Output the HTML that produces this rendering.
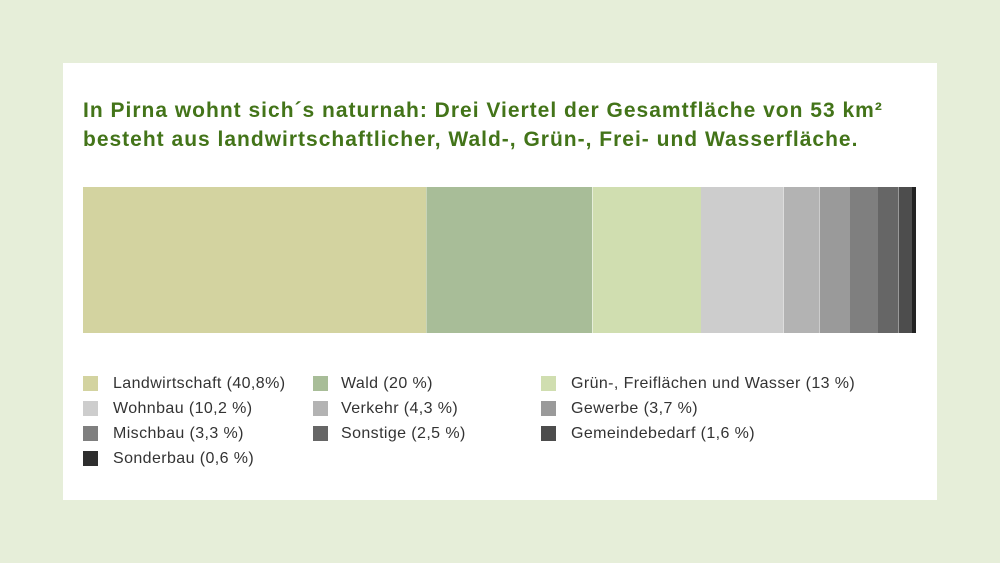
<!DOCTYPE html>
<html><head><meta charset="utf-8"><style>
html,body{margin:0;padding:0}
body{width:1000px;height:563px;background:#e6eed9;position:relative;font-family:"Liberation Sans",sans-serif;overflow:hidden}
.panel{position:absolute;left:63px;top:63px;width:874px;height:437px;background:#fff}
.t{position:absolute;left:83px;color:#437419;font-weight:bold;font-size:21px;letter-spacing:1px;white-space:nowrap}
.seg{position:absolute;top:187px;height:146px}
.sw{position:absolute;width:15px;height:15px}
.lb{position:absolute;font-size:16px;letter-spacing:0.4px;color:#333;white-space:nowrap}
</style></head><body>
<div class="panel"></div>
<div class="t" style="top:99px">In Pirna wohnt sich´s naturnah: Drei Viertel der Gesamtfläche von 53 km²</div>
<div class="t" style="top:128px">besteht aus landwirtschaftlicher, Wald-, Grün-, Frei- und Wasserfläche.</div>

<div class="seg" style="left:83px;width:343px;background:#d3d3a0"></div>
<div class="seg" style="left:426px;width:166px;background:#a8bd98;border-left:1px solid #c8d4b8;box-sizing:border-box"></div>
<div class="seg" style="left:592px;width:109px;background:#d0deb0;border-left:1px solid #e6eed9;box-sizing:border-box"></div>
<div class="seg" style="left:701px;width:82px;background:#cdcdcd"></div>
<div class="seg" style="left:783px;width:36px;background:#b3b3b3;border-left:1px solid #ddd;box-sizing:border-box"></div>
<div class="seg" style="left:819px;width:31px;background:#9a9a9a;border-left:1px solid #ccc;box-sizing:border-box"></div>
<div class="seg" style="left:850px;width:28px;background:#7f7f7f"></div>
<div class="seg" style="left:878px;width:20px;background:#666"></div>
<div class="seg" style="left:898px;width:14px;background:#4d4d4d;border-left:1px solid #999;box-sizing:border-box"></div>
<div class="seg" style="left:912px;width:4px;background:#222"></div>

<div class="sw" style="left:83px;top:376px;background:#d3d3a0"></div><div class="lb" style="left:113px;top:375px">Landwirtschaft (40,8%)</div>
<div class="sw" style="left:313px;top:376px;background:#a8bd98"></div><div class="lb" style="left:341px;top:375px">Wald (20 %)</div>
<div class="sw" style="left:541px;top:376px;background:#d0deb0"></div><div class="lb" style="left:571px;top:375px">Grün-, Freiflächen und Wasser (13 %)</div>

<div class="sw" style="left:83px;top:401px;background:#cdcdcd"></div><div class="lb" style="left:113px;top:400px">Wohnbau (10,2 %)</div>
<div class="sw" style="left:313px;top:401px;background:#b3b3b3"></div><div class="lb" style="left:341px;top:400px">Verkehr (4,3 %)</div>
<div class="sw" style="left:541px;top:401px;background:#9a9a9a"></div><div class="lb" style="left:571px;top:400px">Gewerbe (3,7 %)</div>

<div class="sw" style="left:83px;top:426px;background:#7f7f7f"></div><div class="lb" style="left:113px;top:425px">Mischbau (3,3 %)</div>
<div class="sw" style="left:313px;top:426px;background:#666"></div><div class="lb" style="left:341px;top:425px">Sonstige (2,5 %)</div>
<div class="sw" style="left:541px;top:426px;background:#4d4d4d"></div><div class="lb" style="left:571px;top:425px">Gemeindebedarf (1,6 %)</div>

<div class="sw" style="left:83px;top:451px;background:#2e2e2e"></div><div class="lb" style="left:113px;top:450px">Sonderbau (0,6 %)</div>
</body></html>
